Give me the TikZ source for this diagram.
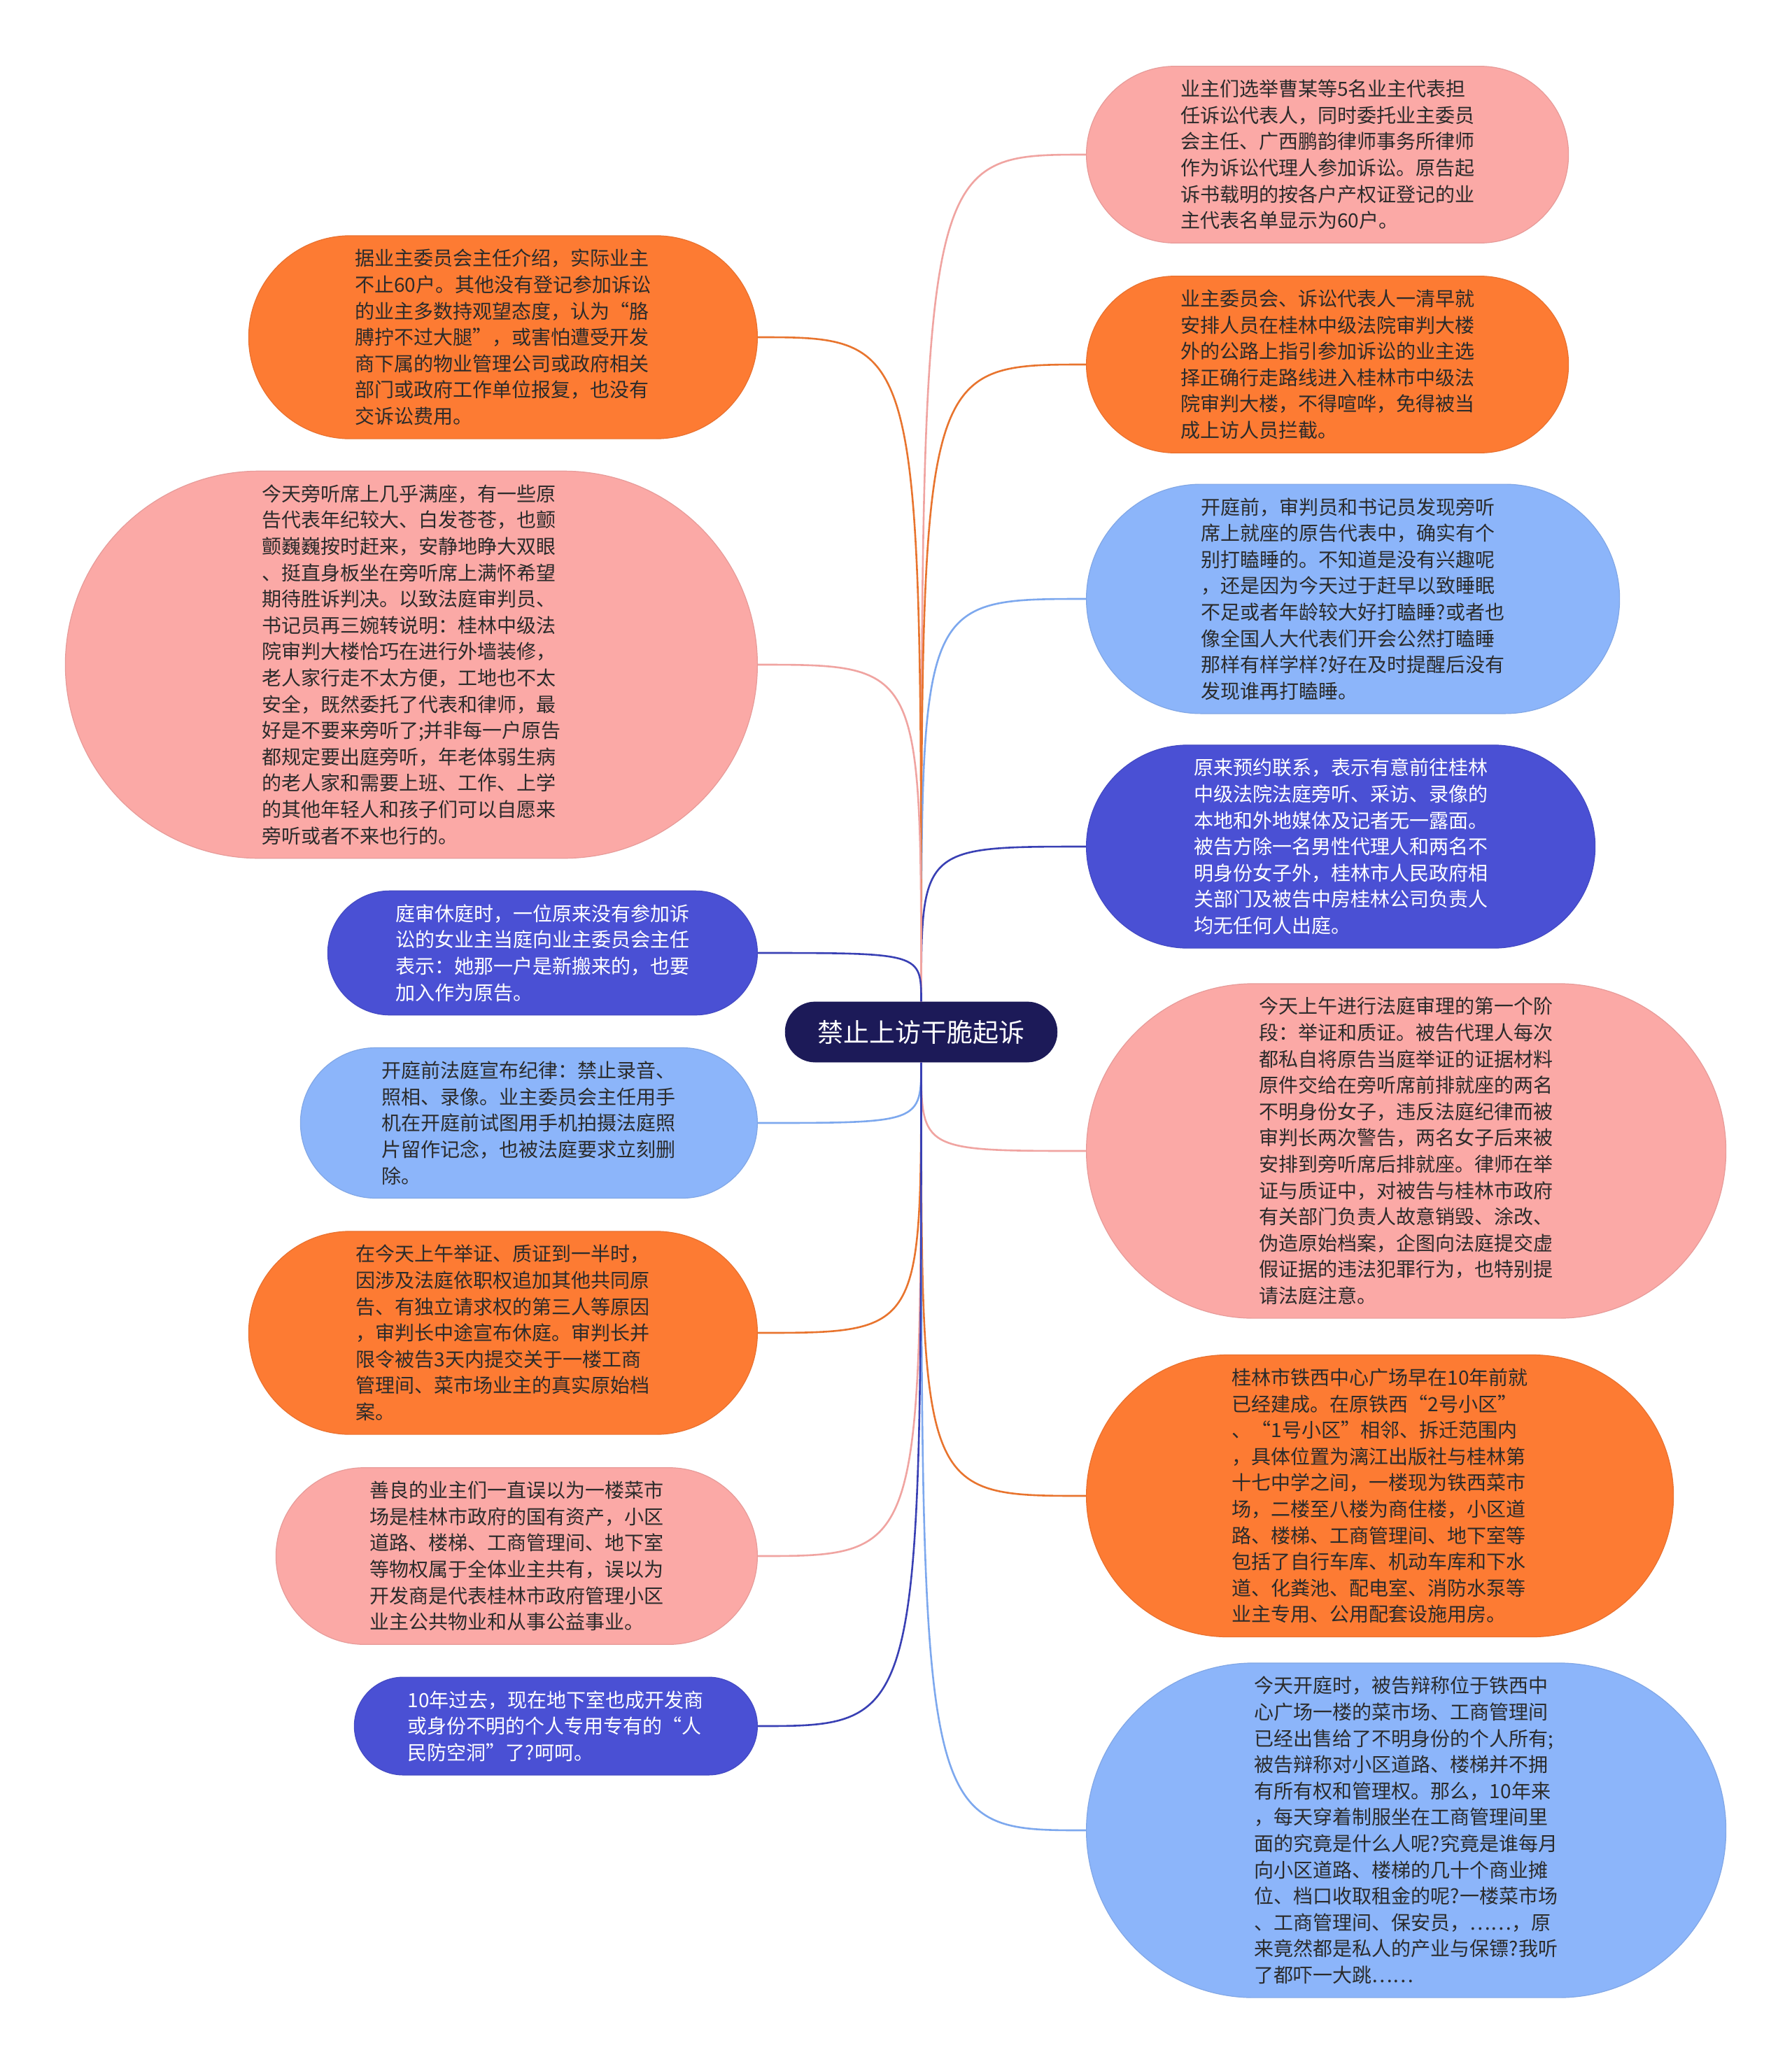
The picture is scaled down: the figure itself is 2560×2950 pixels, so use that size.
\documentclass[tikz,border=0pt]{standalone}
\usepackage{fontspec}
\setmainfont{Noto Sans CJK SC}
\usepackage{tikz}
\usetikzlibrary{shapes.misc}
\definecolor{leaf-pink}{HTML}{FBA9A6}
\definecolor{leaf-orange}{HTML}{FD7B33}
\definecolor{leaf-pale}{HTML}{8CB5FA}
\definecolor{leaf-indigo}{HTML}{4A50D4}
\definecolor{topic-navy}{HTML}{1C1A58}
\definecolor{line-pink}{HTML}{F0A4A1}
\definecolor{line-orange}{HTML}{E8742E}
\definecolor{line-pale}{HTML}{7DA8EE}
\definecolor{line-indigo}{HTML}{3940B4}
\definecolor{leaf-text}{HTML}{2B2B2B}

\begin{document}
\begin{tikzpicture}[
    x=0.5pt, y=-0.5pt,
    leaf/.style={rounded rectangle, draw=#1!92!black, fill=#1, line width=0.6pt, align=left, text=leaf-text, font=\fontsize{14pt}{18.8pt}\selectfont, inner xsep=0pt, inner ysep=2pt},
    nrows/.style={minimum height={#1*18.8pt+13.5pt}},
    toright/.style={anchor=west},
    toleft/.style={anchor=east},
    root/.style={rounded rectangle, fill=topic-navy, draw=topic-navy, text=white, font=\fontsize{18.5pt}{22pt}\selectfont, minimum width=201pt, minimum height=43pt},
    branch/.style={line width=1.3pt, draw=#1}
]
    \fill[white] (0,0) rectangle (2560,2950);
    \useasboundingbox (0,0) rectangle (2560,2950);

    \node[root] (topic) at (1316.5,1475) {禁止上访干脆起诉};

    % right side
    \node[leaf=leaf-pink, nrows=6, toright, minimum width=344.5pt] (reps) at (1552,221) {业主们选举曹某等5名业主代表担\\任诉讼代表人，同时委托业主委员\\会主任、广西鹏韵律师事务所律师\\作为诉讼代理人参加诉讼。原告起\\诉书载明的按各户产权证登记的业\\主代表名单显示为60户。};
    \node[leaf=leaf-orange, nrows=6, toright, minimum width=344.5pt] (guide) at (1552,521) {业主委员会、诉讼代表人一清早就\\安排人员在桂林中级法院审判大楼\\外的公路上指引参加诉讼的业主选\\择正确行走路线进入桂林市中级法\\院审判大楼，不得喧哗，免得被当\\成上访人员拦截。};
    \node[leaf=leaf-pale, nrows=8, toright, minimum width=381pt] (dozing) at (1552,856) {开庭前，审判员和书记员发现旁听\\席上就座的原告代表中，确实有个\\别打瞌睡的。不知道是没有兴趣呢\\，还是因为今天过于赶早以致睡眠\\不足或者年龄较大好打瞌睡?或者也\\像全国人大代表们开会公然打瞌睡\\那样有样学样?好在及时提醒后没有\\发现谁再打瞌睡。};
    \node[leaf=leaf-indigo, nrows=7, toright, minimum width=363.5pt, text=white] (media) at (1552,1210) {原来预约联系，表示有意前往桂林\\中级法院法庭旁听、采访、录像的\\本地和外地媒体及记者无一露面。\\被告方除一名男性代理人和两名不\\明身份女子外，桂林市人民政府相\\关部门及被告中房桂林公司负责人\\均无任何人出庭。};
    \node[leaf=leaf-pink, nrows=12, toright, minimum width=457pt] (evidence) at (1552,1645) {今天上午进行法庭审理的第一个阶\\段：举证和质证。被告代理人每次\\都私自将原告当庭举证的证据材料\\原件交给在旁听席前排就座的两名\\不明身份女子，违反法庭纪律而被\\审判长两次警告，两名女子后来被\\安排到旁听席后排就座。律师在举\\证与质证中，对被告与桂林市政府\\有关部门负责人故意销毁、涂改、\\伪造原始档案，企图向法庭提交虚\\假证据的违法犯罪行为，也特别提\\请法庭注意。};
    \node[leaf=leaf-orange, nrows=10, toright, minimum width=419.5pt] (square) at (1552,2138) {桂林市铁西中心广场早在10年前就\\已经建成。在原铁西“2号小区”\\、“1号小区”相邻、拆迁范围内\\，具体位置为漓江出版社与桂林第\\十七中学之间，一楼现为铁西菜市\\场，二楼至八楼为商住楼，小区道\\路、楼梯、工商管理间、地下室等\\包括了自行车库、机动车库和下水\\道、化粪池、配电室、消防水泵等\\业主专用、公用配套设施用房。};
    \node[leaf=leaf-pale, nrows=12, toright, minimum width=457pt] (defense) at (1552,2616) {今天开庭时，被告辩称位于铁西中\\心广场一楼的菜市场、工商管理间\\已经出售给了不明身份的个人所有;\\被告辩称对小区道路、楼梯并不拥\\有所有权和管理权。那么，10年来\\，每天穿着制服坐在工商管理间里\\面的究竟是什么人呢?究竟是谁每月\\向小区道路、楼梯的几十个商业摊\\位、档口收取租金的呢?一楼菜市场\\、工商管理间、保安员，……，原\\来竟然都是私人的产业与保镖?我听\\了都吓一大跳……};

    % left side
    \node[leaf=leaf-orange, nrows=7, toleft, minimum width=363.5pt] (survey) at (1083,482) {据业主委员会主任介绍，实际业主\\不止60户。其他没有登记参加诉讼\\的业主多数持观望态度，认为“胳\\膊拧不过大腿”，或害怕遭受开发\\商下属的物业管理公司或政府相关\\部门或政府工作单位报复，也没有\\交诉讼费用。};
    \node[leaf=leaf-pink, nrows=14, toleft, minimum width=494.5pt] (elderly) at (1083,950) {今天旁听席上几乎满座，有一些原\\告代表年纪较大、白发苍苍，也颤\\颤巍巍按时赶来，安静地睁大双眼\\、挺直身板坐在旁听席上满怀希望\\期待胜诉判决。以致法庭审判员、\\书记员再三婉转说明：桂林中级法\\院审判大楼恰巧在进行外墙装修，\\老人家行走不太方便，工地也不太\\安全，既然委托了代表和律师，最\\好是不要来旁听了;并非每一户原告\\都规定要出庭旁听，年老体弱生病\\的老人家和需要上班、工作、上学\\的其他年轻人和孩子们可以自愿来\\旁听或者不来也行的。};
    \node[leaf=leaf-indigo, nrows=4, toleft, minimum width=307pt, text=white] (joinin) at (1083,1362) {庭审休庭时，一位原来没有参加诉\\讼的女业主当庭向业主委员会主任\\表示：她那一户是新搬来的，也要\\加入作为原告。};
    \node[leaf=leaf-pale, nrows=5, toleft, minimum width=326.5pt] (rules) at (1083,1605) {开庭前法庭宣布纪律：禁止录音、\\照相、录像。业主委员会主任用手\\机在开庭前试图用手机拍摄法庭照\\片留作记念，也被法庭要求立刻删\\除。};
    \node[leaf=leaf-orange, nrows=7, toleft, minimum width=363.5pt] (recess) at (1083,1905) {在今天上午举证、质证到一半时，\\因涉及法庭依职权追加其他共同原\\告、有独立请求权的第三人等原因\\，审判长中途宣布休庭。审判长并\\限令被告3天内提交关于一楼工商\\管理间、菜市场业主的真实原始档\\案。};
    \node[leaf=leaf-pink, nrows=6, toleft, minimum width=344pt] (market) at (1083,2224) {善良的业主们一直误以为一楼菜市\\场是桂林市政府的国有资产，小区\\道路、楼梯、工商管理间、地下室\\等物权属于全体业主共有，误以为\\开发商是代表桂林市政府管理小区\\业主公共物业和从事公益事业。};
    \node[leaf=leaf-indigo, nrows=3, toleft, minimum width=288pt, text=white] (shelter) at (1083,2467) {10年过去，现在地下室也成开发商\\或身份不明的个人专用专有的“人\\民防空洞”了?呵呵。};

    % branches from the top of the root
    \draw[branch=line-pink] (topic.north) .. controls (topic.north |- reps.west) .. (reps.west);
    \draw[branch=line-orange] (topic.north) .. controls (topic.north |- guide.west) .. (guide.west);
    \draw[branch=line-pale] (topic.north) .. controls (topic.north |- dozing.west) .. (dozing.west);
    \draw[branch=line-indigo] (topic.north) .. controls (topic.north |- media.west) .. (media.west);
    \draw[branch=line-orange] (topic.north) .. controls (topic.north |- survey.east) .. (survey.east);
    \draw[branch=line-pink] (topic.north) .. controls (topic.north |- elderly.east) .. (elderly.east);
    \draw[branch=line-indigo] (topic.north) .. controls (topic.north |- joinin.east) .. (joinin.east);
    % branches from the bottom of the root
    \draw[branch=line-pink] (topic.south) .. controls (topic.south |- evidence.west) .. (evidence.west);
    \draw[branch=line-orange] (topic.south) .. controls (topic.south |- square.west) .. (square.west);
    \draw[branch=line-pale] (topic.south) .. controls (topic.south |- defense.west) .. (defense.west);
    \draw[branch=line-pale] (topic.south) .. controls (topic.south |- rules.east) .. (rules.east);
    \draw[branch=line-orange] (topic.south) .. controls (topic.south |- recess.east) .. (recess.east);
    \draw[branch=line-pink] (topic.south) .. controls (topic.south |- market.east) .. (market.east);
    \draw[branch=line-indigo] (topic.south) .. controls (topic.south |- shelter.east) .. (shelter.east);
\end{tikzpicture}
\end{document}
